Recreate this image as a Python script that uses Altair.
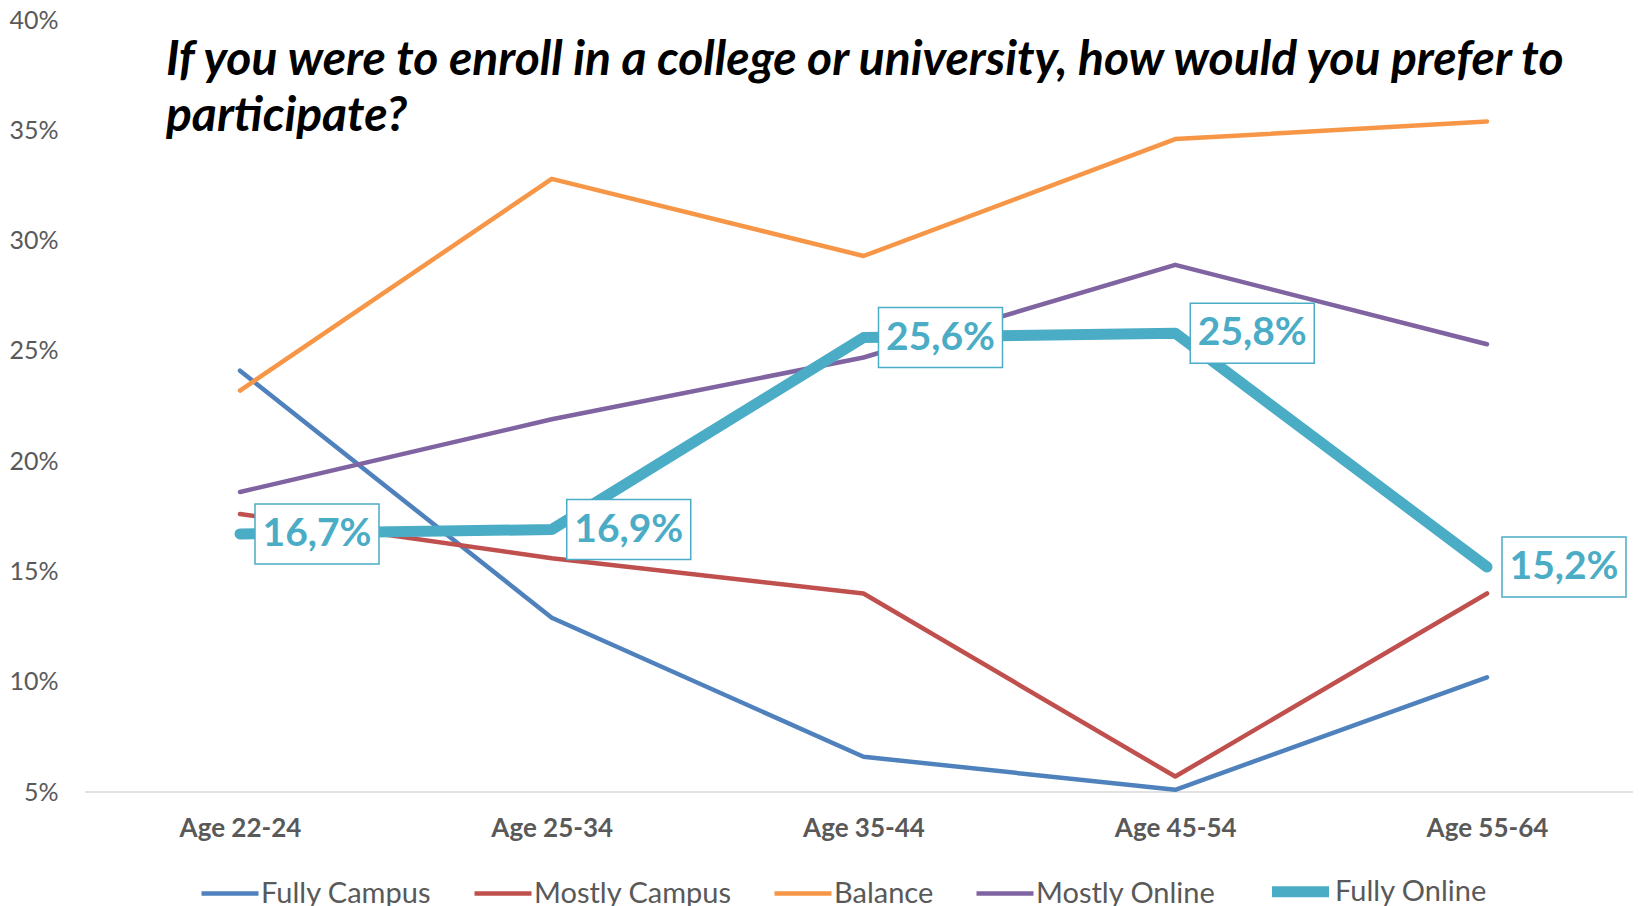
import altair as alt
import pandas as pd

AGES = ["Age 22-24", "Age 25-34", "Age 35-44", "Age 45-54", "Age 55-64"]
SERIES = ["Fully Campus", "Mostly Campus", "Balance", "Mostly Online", "Fully Online"]
COLORS = ["#4F81BD", "#C0504D", "#F79646", "#8064A2", "#4BACC6"]
WIDTHS = [4.5, 4.5, 4.5, 4.5, 11]

fully_campus = [24.1, 12.9, 6.6, 5.1, 10.2]
mostly_campus = [17.6, 15.6, 14.0, 5.7, 14.0]
balance = [23.2, 32.8, 29.3, 34.6, 35.4]
mostly_online = [18.6, 21.9, 24.7, 28.9, 25.3]
fully_online = [16.7, 16.9, 25.6, 25.8, 15.2]

Y_TICKS = [5, 10, 15, 20, 25, 30, 35, 40]
BASELINE = [5]
TITLE_LINES = [
    "If you were to enroll in a college or university, how would you prefer to",
    "participate?",
]

values = [fully_campus, mostly_campus, balance, mostly_online, fully_online]
rows = []
for s, vals in zip(SERIES, values):
    for a, v in zip(AGES, vals):
        rows.append({"age": a, "series": s, "value": v})
df = pd.DataFrame(rows)

lab = pd.DataFrame({"age": AGES, "value": fully_online})
lab["label"] = [f"{v:.1f}".replace(".", ",") + "%" for v in fully_online]

FONT = "Lato"
GREY = "#595959"
W, H = 1548, 772

x = alt.X(
    "age:N",
    sort=AGES,
    scale=alt.Scale(type="point", domain=AGES, range=[155, 1402], padding=0),
    axis=alt.Axis(
        title=None,
        labelFont=FONT,
        labelFontSize=26,
        labelFontWeight="bold",
        labelColor=GREY,
        labelPadding=23,
        ticks=False,
        domain=False,
        labelAngle=0,
    ),
)
y = alt.Y(
    "value:Q",
    scale=alt.Scale(domain=[5, 40], nice=False, zero=False),
    axis=alt.Axis(
        title=None,
        values=Y_TICKS,
        labelExpr="datum.value + '%'",
        labelFont=FONT,
        labelFontSize=25,
        labelColor=GREY,
        labelPadding=27,
        ticks=False,
        domain=False,
        grid=False,
    ),
)
leg = alt.Legend(
    title=None,
    orient="none",
    legendX=114,
    legendY=837,
    direction="horizontal",
    symbolType="stroke",
    symbolSize=3250,
    labelFont=FONT,
    labelFontSize=29,
    labelColor=GREY,
    labelOffset=0,
    labelLimit=500,
    columnPadding=33,
    padding=0,
)
color = alt.Color("series:N", scale=alt.Scale(domain=SERIES, range=COLORS), legend=leg)
sw = alt.StrokeWidth(
    "series:N", scale=alt.Scale(type="ordinal", domain=SERIES, range=WIDTHS), legend=leg
)

baseline = alt.Chart(pd.DataFrame({"value": BASELINE})).mark_rule(
    color="#D9D9D9", strokeWidth=1.5
).encode(y=y, x=alt.value(0), x2=alt.value(W))

base = alt.Chart(df)
lines_other = base.transform_filter(alt.datum.series != "Fully Online").mark_line(
    strokeCap="round", strokeJoin="round"
).encode(x=x, y=y, color=color, strokeWidth=sw)
line_fo = base.transform_filter(alt.datum.series == "Fully Online").mark_line(
    strokeCap="round", strokeJoin="round"
).encode(x=x, y=y, color=color, strokeWidth=sw)

boxes = alt.Chart(lab).mark_rect(
    width=124, height=60, xOffset=77, fill="white", stroke="#4BACC6", strokeWidth=1.5
).encode(x=x, y=y)
texts = alt.Chart(lab).mark_text(
    dx=77, align="center", baseline="middle", font=FONT, fontSize=39,
    fontWeight="bold", color="#4BACC6"
).encode(x=x, y=y, text="label:N")

title = alt.Chart(pd.DataFrame({"k": [0]})).mark_text(
    text=TITLE_LINES, align="left", baseline="alphabetic", font=FONT,
    fontSize=48, fontWeight="bold", fontStyle="italic", color="black", lineHeight=56
).encode(x=alt.value(81), y=alt.value(55))

chart = alt.layer(baseline, lines_other, line_fo, boxes, texts, title).properties(
    width=W, height=H, padding={"left": 0, "top": 0, "right": 0, "bottom": 0}
).configure_view(stroke=None)

chart.save("out.html", embed_options={"renderer": "svg", "actions": False})
